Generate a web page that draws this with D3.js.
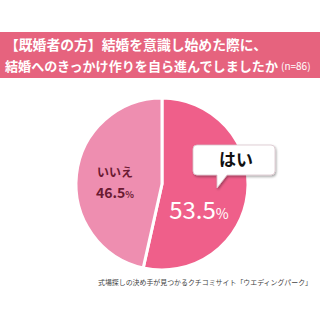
<!DOCTYPE html>
<html>
<head>
  <meta charset="utf-8">
  <script src="https://d3js.org/d3.v7.min.js"></script>
  <style>
    body { margin: 0; background: #fff; }
    text { font-family: "Noto Sans CJK JP", "Noto Sans", sans-serif; }
  </style>
</head>
<body>
<div id="chart"></div>
<script>
  const labels = ["はい", "いいえ"];
  const values = [53.5, 46.5];
  const colors = ["#ef5f8a", "#ee8eb0"];
  const titleLines = ["【既婚者の方】結婚を意識し始めた際に、", "結婚へのきっかけ作りを自ら進んでしましたか"];
  const nLabel = "(n=86)";
  const source = "式場探しの決め手が見つかるクチコミサイト「ウエディングパーク」";

  const width = 320, height = 320;
  const cx = 162, cy = 184, r = 86;

  const svg = d3.select("#chart").append("svg")
    .attr("width", width).attr("height", height);

  const defs = svg.append("defs");
  const f = defs.append("filter").attr("id", "shadow")
    .attr("x", "-20%").attr("y", "-20%").attr("width", "140%").attr("height", "150%");
  f.append("feDropShadow").attr("dx", 1).attr("dy", 1.5).attr("stdDeviation", 1.2)
    .attr("flood-color", "#000").attr("flood-opacity", 0.35);

  // header band
  svg.append("rect").attr("x", 0).attr("y", 32).attr("width", width).attr("height", 46)
    .attr("fill", "#e6637e");
  svg.append("text").attr("x", 5).attr("y", 50)
    .attr("fill", "#fff").attr("font-size", 13.5).attr("font-weight", "bold")
    .attr("textLength", 262).attr("lengthAdjust", "spacingAndGlyphs")
    .text(titleLines[0]);
  svg.append("text").attr("x", 5).attr("y", 71)
    .attr("fill", "#fff").attr("font-size", 13).attr("font-weight", "bold")
    .attr("textLength", 273).attr("lengthAdjust", "spacingAndGlyphs")
    .text(titleLines[1]);
  svg.append("text").attr("x", 281).attr("y", 70)
    .attr("fill", "#fff").attr("font-size", 10)
    .text(nLabel);

  // pie
  const pie = d3.pie().sort(null).value(d => d);
  const arc = d3.arc().innerRadius(0).outerRadius(r);
  const g = svg.append("g").attr("transform", `translate(${cx},${cy})`);
  g.selectAll("path").data(pie(values)).enter().append("path")
    .attr("d", arc)
    .attr("fill", (d, i) => colors[i])
    .attr("stroke", "#fff").attr("stroke-width", 3)
    .attr("stroke-linejoin", "round");

  // いいえ label
  svg.append("text").attr("x", 115).attr("y", 177).attr("text-anchor", "middle")
    .attr("fill", "#6a1a32").attr("font-size", 12).attr("font-weight", "bold")
    .text(labels[1]);
  const t2 = svg.append("text").attr("x", 115).attr("y", 198).attr("text-anchor", "middle")
    .attr("fill", "#6a1a32").attr("font-weight", "bold");
  t2.append("tspan").attr("font-size", 14).text(values[1].toFixed(1));
  t2.append("tspan").attr("font-size", 9).text("%");

  // はい callout
  const bx = 193, by = 145, bw = 82, bh = 30, rr = 4;
  const callout = d3.path();
  callout.moveTo(bx + rr, by);
  callout.lineTo(bx + bw - rr, by);
  callout.quadraticCurveTo(bx + bw, by, bx + bw, by + rr);
  callout.lineTo(bx + bw, by + bh - rr);
  callout.quadraticCurveTo(bx + bw, by + bh, bx + bw - rr, by + bh);
  callout.lineTo(bx + 34, by + bh);
  callout.lineTo(bx + 24, by + bh + 13);
  callout.lineTo(bx + 24, by + bh);
  callout.lineTo(bx + rr, by + bh);
  callout.quadraticCurveTo(bx, by + bh, bx, by + bh - rr);
  callout.lineTo(bx, by + rr);
  callout.quadraticCurveTo(bx, by, bx + rr, by);
  callout.closePath();
  svg.append("path").attr("d", callout.toString())
    .attr("fill", "#fff").attr("stroke", "#d9c4cb").attr("stroke-width", 0.8)
    .attr("filter", "url(#shadow)");
  svg.append("text").attr("x", bx + bw / 2 + 2).attr("y", by + 21).attr("text-anchor", "middle")
    .attr("fill", "#111").attr("font-size", 17).attr("font-weight", "bold")
    .text(labels[0]);

  const t1 = svg.append("text").attr("x", 199).attr("y", 219).attr("text-anchor", "middle")
    .attr("fill", "#fff");
  t1.append("tspan").attr("font-size", 24).text(values[0].toFixed(1));
  t1.append("tspan").attr("font-size", 14).text("%");

  // source
  svg.append("text").attr("x", 98).attr("y", 285)
    .attr("fill", "#444").attr("font-size", 7.2)
    .attr("textLength", 214).attr("lengthAdjust", "spacingAndGlyphs")
    .text(source);
</script>
</body>
</html>
